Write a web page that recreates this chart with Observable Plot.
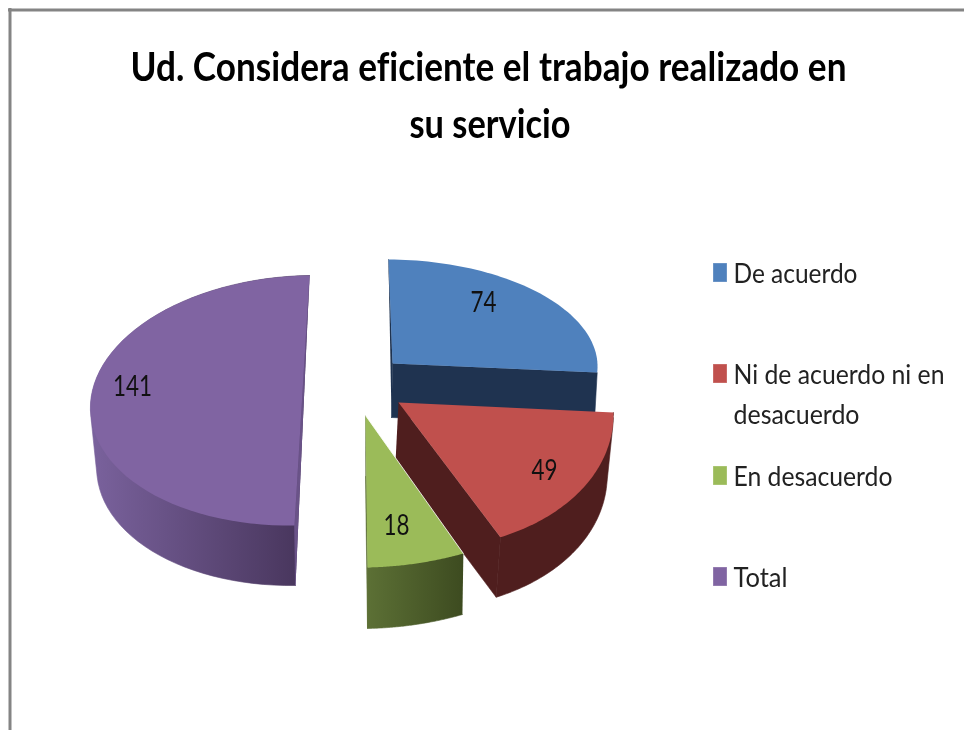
<!DOCTYPE html>
<html>
<head>
<meta charset="utf-8">
<script src="https://cdn.jsdelivr.net/npm/d3@7"></script>
<script src="https://cdn.jsdelivr.net/npm/@observablehq/plot@0.6"></script>
<style>
html,body{margin:0;padding:0;background:#fff;}
svg{display:block;filter:blur(0.45px);}
text{font-variant-ligatures:none;}
</style>
</head>
<body>
<div id="chart"></div>
<script>
// Data
const categories = ["De acuerdo", "Ni de acuerdo ni en desacuerdo", "En desacuerdo", "Total"];
const values = [74, 49, 18, 141];
const titleLines = ["Ud. Considera eficiente el trabajo realizado en", "su servicio"];
const legendLines = [["De acuerdo"], ["Ni de acuerdo ni en", "desacuerdo"], ["En desacuerdo"], ["Total"]];

// Styles
const topColors = ["#4f81bd", "#c0504d", "#9bbb59", "#8064a2"];
const wallColors = ["#1f3350", "#4f1e1e", "url(#wallGreen)", "url(#wallPurple)"];
const innerColors = ["#1f3350", "#4f1e1e", "#5a6d33", "#6a5388"];
const FONT = "Lato, Carlito, 'Open Sans', sans-serif";

// Perspective of each exploded slice: centre c, axis vectors X (at 90°) and Y (at 0°),
// wall offset D, shrink of the lower rim, label position in slice units.
const view = [
  {c:[392,363],   X:[205,1],      Y:[-4,-104],  D:[-1,54], s:0.99,  label:[0.455,0.591]},
  {c:[398,402],   X:[214,-1.5],   Y:[-20,-147], D:[-3,60], s:0.985, label:[0.638,-0.469]},
  {c:[365,415],   X:[246,-5],     Y:[-2,-152],  D:[0,61],  s:0.99,  label:[0.12,-0.728]},
  {c:[301.5,400], X:[211.5,-3],   Y:[7.5,-125], D:[1,60],  s:0.975, label:[-0.806,0.13]}
];

const arcs = d3.pie().sort(null)(values);
const pt = (v, t, k = 1, shift = [0, 0]) => ({
  x: v.c[0] + shift[0] + k * Math.sin(t) * v.X[0] + Math.cos(t) * v.Y[0],
  y: v.c[1] + shift[1] + k * Math.sin(t) * v.X[1] + Math.cos(t) * v.Y[1]
});
const rim = (v, a, k, shift) => d3.range(0, 61).map(i =>
  pt(v, a.startAngle + (a.endAngle - a.startAngle) * i / 60, k, shift));
const apex = v => ({x: v.c[0], y: v.c[1]});
const low = (v, p) => ({x: p.x + v.D[0], y: p.y + v.D[1]});

const poly = (points, fill, stroke = "none") =>
  Plot.line(points, {x: "x", y: "y", fill, stroke, strokeWidth: stroke === "none" ? 0 : 0.6, curve: "linear"});
const hull = points => d3.polygonHull(points.map(p => [p.x, p.y])).map(([x, y]) => ({x, y}));

function sliceMarks(i) {
  const v = view[i], a = arcs[i];
  const top = rim(v, a), bottom = rim(v, a, v.s, v.D);
  const A = apex(v), first = top[0], last = top[60];
  const marks = [];
  // outer wall, with the silhouette between the two rims (the blue one faces away)
  if (i === 3) marks.push(poly(hull([...top, ...bottom.slice(0, 40)]), wallColors[i], wallColors[i]));
  else if (i !== 0) marks.push(poly(hull([...top, ...bottom]), wallColors[i], wallColors[i]));
  // inner walls
  if (i === 3) {
    marks.push(poly([last, first, bottom[0]], innerColors[i], innerColors[i]));
  } else {
    if (i === 0) marks.push(poly([first, A, low(v, A)], innerColors[i], innerColors[i]));
    marks.push(poly([A, last, bottom[60], low(v, A)], innerColors[i], innerColors[i]));
  }
  // top face
  marks.push(poly([A, ...top], topColors[i]));
  if (i === 2) marks.push(Plot.line([A, first], {x: "x", y: "y", stroke: "#fff", strokeWidth: 1, strokeOpacity: 0.8}));
  return marks;
}

const sliceLabels = values.map((val, i) => {
  const v = view[i], [u, w] = v.label;
  return {
    text: String(val),
    x: v.c[0] + u * v.X[0] + w * v.Y[0],
    y: v.c[1] + u * v.X[1] + w * v.Y[1]
  };
});

// Layout of text rows
const titleRows = [
  {text: titleLines[0], x: 488, y: 80},
  {text: titleLines[1], x: 489.5, y: 137}
];
const legendRows = [
  {text: legendLines[0][0], y: 282},
  {text: legendLines[1][0], y: 383},
  {text: legendLines[1][1], y: 423},
  {text: legendLines[2][0], y: 485},
  {text: legendLines[3][0], y: 586}
];
const legendSwatches = [
  {y1: 263, y2: 282}, {y1: 364, y2: 383}, {y1: 466, y2: 485}, {y1: 567, y2: 586}
].map((d, i) => ({...d, name: categories[i], fill: topColors[i]}));

const textWidths = new Map([
  [titleLines[0], 716], [titleLines[1], 161],
  ["De acuerdo", 124], ["Ni de acuerdo ni en", 211], ["desacuerdo", 126],
  ["En desacuerdo", 159], ["Total", 54],
  ["74", 26], ["49", 26], ["18", 26], ["141", 39]
]);

const plot = Plot.plot({
  width: 964, height: 730,
  margin: 0,
  x: {domain: [0, 964], range: [0, 964], axis: null},
  y: {domain: [0, 730], range: [0, 730], axis: null},
  style: {background: "#fff", fontFamily: FONT},
  marks: [
    Plot.ruleY([9.5], {x1: 8, x2: 964, stroke: "#848484", strokeWidth: 3}),
    Plot.ruleX([9.5], {y1: 8, y2: 730, stroke: "#848484", strokeWidth: 3}),
    ...sliceMarks(3),
    ...sliceMarks(0),
    ...sliceMarks(1),
    ...sliceMarks(2),
    Plot.text(sliceLabels, {x: "x", y: "y", text: "text", fontSize: 29, fill: "#111", textAnchor: "middle", lineAnchor: "middle"}),
    Plot.text(titleRows, {x: "x", y: "y", text: "text", fontSize: 40, fontWeight: 700, fill: "#000", textAnchor: "middle", lineAnchor: "bottom"}),
    Plot.rect(legendSwatches, {x1: () => 713, x2: () => 727, y1: "y1", y2: "y2", fill: "fill", stroke: "#fff", strokeOpacity: 0.3}),
    Plot.text(legendRows, {x: () => 733, y: "y", text: "text", fontSize: 27, fill: "#222", textAnchor: "start", lineAnchor: "bottom"})
  ]
});

// Gradients for the curved walls
const defs = d3.select(plot).insert("defs", ":first-child");
[["wallPurple", "#7a629d", "#46345a"], ["wallGreen", "#5c7035", "#3d4b20"]].forEach(([id, a, b]) => {
  const g = defs.append("linearGradient").attr("id", id);
  g.append("stop").attr("offset", "0").attr("stop-color", a);
  g.append("stop").attr("offset", "1").attr("stop-color", b);
});

// Reference type is squeezed horizontally: fit each string to its measured width
d3.select(plot).selectAll("text").each(function () {
  const w = textWidths.get(this.textContent);
  if (w) this.setAttribute("textLength", w), this.setAttribute("lengthAdjust", "spacingAndGlyphs");
});

document.getElementById("chart").appendChild(plot);
</script>
</body>
</html>
